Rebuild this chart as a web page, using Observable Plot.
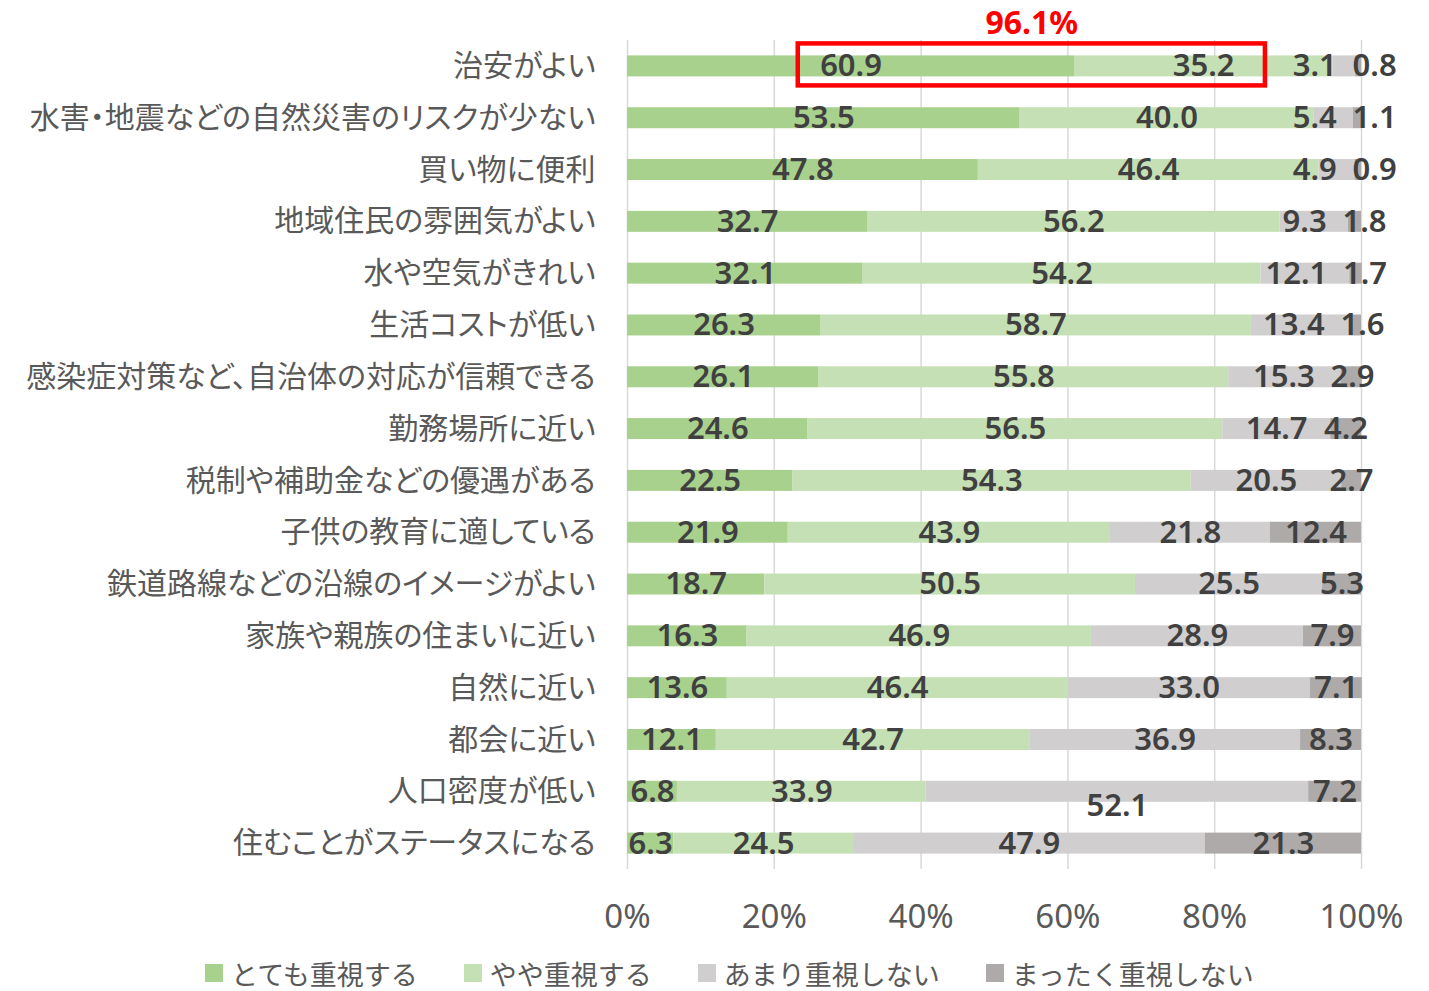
<!DOCTYPE html>
<html>
<head>
<meta charset="utf-8">
<script src="https://cdn.jsdelivr.net/npm/d3@7"></script>
<script src="https://cdn.jsdelivr.net/npm/@observablehq/plot@0.6"></script>
<style>
  html, body { margin: 0; padding: 0; background: #fff; }
  #wrap { position: relative; width: 1429px; height: 991px; overflow: hidden; }
  #legend { position: absolute; left: 205px; top: 956px; height: 34px; display: flex; align-items: center;
            font-family: "Noto Sans CJK JP", sans-serif; font-size: 27px; line-height: 1; color: #595959; white-space: nowrap; }
  .item { display: flex; align-items: center; margin-right: 46px; }
  .sw { width: 18px; height: 18px; margin-right: 8px; }
</style>
</head>
<body>
<div id="wrap"><div id="chart"></div><div id="legend"></div></div>
<script>
const categories = [
  "治安がよい",
  "水害・地震などの自然災害のリスクが少ない",
  "買い物に便利",
  "地域住民の雰囲気がよい",
  "水や空気がきれい",
  "生活コストが低い",
  "感染症対策など、自治体の対応が信頼できる",
  "勤務場所に近い",
  "税制や補助金などの優遇がある",
  "子供の教育に適している",
  "鉄道路線などの沿線のイメージがよい",
  "家族や親族の住まいに近い",
  "自然に近い",
  "都会に近い",
  "人口密度が低い",
  "住むことがステータスになる"
];
const seriesNames = ["とても重視する", "やや重視する", "あまり重視しない", "まったく重視しない"];
const veryImportant     = [60.9, 53.5, 47.8, 32.7, 32.1, 26.3, 26.1, 24.6, 22.5, 21.9, 18.7, 16.3, 13.6, 12.1, 6.8, 6.3];
const somewhatImportant = [35.2, 40.0, 46.4, 56.2, 54.2, 58.7, 55.8, 56.5, 54.3, 43.9, 50.5, 46.9, 46.4, 42.7, 33.9, 24.5];
const notVery           = [3.1, 5.4, 4.9, 9.3, 12.1, 13.4, 15.3, 14.7, 20.5, 21.8, 25.5, 28.9, 33.0, 36.9, 52.1, 47.9];
const notAtAll          = [0.8, 1.1, 0.9, 1.8, 1.7, 1.6, 2.9, 4.2, 2.7, 12.4, 5.3, 7.9, 7.1, 8.3, 7.2, 21.3];
const xTicks = [0, 20, 40, 60, 80, 100];
const colors = ["#a9d18e", "#c5e0b4", "#d0cece", "#aeaaaa"];

const seriesValues = [veryImportant, somewhatImportant, notVery, notAtAll];

// Layout constants
const W = 1429, H = 950, mL = 627, mR = 68, mT = 40, mB = 81;
const plotW = W - mL - mR;
const k = plotW / 100; // px per percent
const labelFont = 31;

// Build long table
const table = [];
categories.forEach((c, i) => {
  let acc = 0;
  seriesValues.forEach((vals, j) => {
    const v = vals[i];
    table.push({category: c, series: seriesNames[j], value: v, start: acc, end: acc + v, si: j});
    acc += v;
  });
});

// Label layout with simple overlap resolution (pixel space, relative to plot left)
function textW(s) {
  let w = 0;
  for (const ch of s) w += (ch === "." ? 0.268 : 0.572);
  return w * labelFont;
}
const labels = [];
categories.forEach((c, i) => {
  const rows = table.filter(d => d.category === c);
  const items = rows.map(d => ({
    d, text: d.value.toFixed(1), c: (d.start + d.value / 2) * k, w: textW(d.value.toFixed(1))
  }));
  const G = 16, R = 769;
  for (let it = 0; it < 60; it++) {
    for (let j = 0; j < items.length - 1; j++) {
      const a = items[j], b = items[j + 1];
      const need = (a.w + b.w) / 2 + G;
      const dd = b.c - a.c;
      if (dd < need) { const s = (need - dd) / 2; a.c -= s; b.c += s; }
    }
    const last = items[items.length - 1];
    const maxC = R - last.w / 2;
    if (last.c > maxC) last.c = maxC;
  }
  items.forEach(o => labels.push({
    category: c, series: o.d.series, text: o.text, x: o.c / k, w: o.w, si: o.d.si,
    low: (c === "人口密度が低い" && o.d.si === 2)
  }));
});

// Highlight box around first row's first two labels
const first = labels.filter(l => l.category === categories[0]);
const boxX1 = first[0].x - (first[0].w / 2 + 22) / k;
const boxX2 = first[1].x + (first[1].w / 2 + 31) / k;
const boxData = [{category: categories[0], x1: boxX1, x2: boxX2,
  total: (veryImportant[0] + somewhatImportant[0]).toFixed(1) + "%"}];

const chart = Plot.plot({
  width: W, height: H,
  marginLeft: mL, marginRight: mR, marginTop: mT, marginBottom: mB,
  style: {background: "#fff", color: "#595959", fontFamily: "'Noto Sans CJK JP', sans-serif", overflow: "visible"},
  x: {domain: [0, 100], axis: null},
  y: {domain: categories, paddingInner: 0.595, paddingOuter: 0.2975, round: false, axis: null, label: null},
  color: {domain: seriesNames, range: colors},
  marks: [
    Plot.gridX(xTicks, {stroke: "#d9d9d9", strokeOpacity: 1, strokeWidth: 1.5}),
    Plot.barX(table, {y: "category", x1: "start", x2: "end", fill: "series"}),
    Plot.axisY({tickSize: 0, tickPadding: 32, fontSize: 30, fill: "#595959", label: null}),
    Plot.axisX(xTicks, {tickSize: 0, tickPadding: 35, fontSize: 33, fill: "#595959", label: null,
      fontFamily: "'Noto Sans', sans-serif", tickFormat: d => d + "%"}),
    Plot.text(labels.filter(l => !l.low), {x: "x", y: "category", text: "text", fill: "#404040",
      fontSize: labelFont, fontWeight: 600, fontFamily: "'Noto Sans', sans-serif"}),
    Plot.text(labels.filter(l => l.low), {x: "x", y: "category", text: "text", fill: "#404040", dy: 14,
      fontSize: labelFont, fontWeight: 600, fontFamily: "'Noto Sans', sans-serif"}),
    Plot.rect(boxData, {y: "category", x1: "x1", x2: "x2", fill: "none", stroke: "#ff0000",
      strokeWidth: 4.5, insetTop: -12, insetBottom: -9}),
    Plot.text(boxData, {x: d => (d.x1 + d.x2) / 2, y: "category", text: "total", fill: "#ff0000",
      dy: -43, fontSize: 32, fontWeight: "bold", fontFamily: "'Noto Sans', sans-serif"})
  ]
});
// proportional kana spacing for category labels (like Meiryo UI)
d3.select(chart).selectAll("g[aria-label='y-axis tick label']").style("font-feature-settings", "'palt' 1");
document.getElementById("chart").appendChild(chart);

// Legend
const legend = document.getElementById("legend");
seriesNames.forEach((s, i) => {
  const it = document.createElement("div");
  it.className = "item";
  const sw = document.createElement("span");
  sw.className = "sw";
  sw.style.background = colors[i];
  const t = document.createElement("span");
  t.textContent = s;
  it.appendChild(sw); it.appendChild(t);
  legend.appendChild(it);
});
</script>
</body>
</html>
